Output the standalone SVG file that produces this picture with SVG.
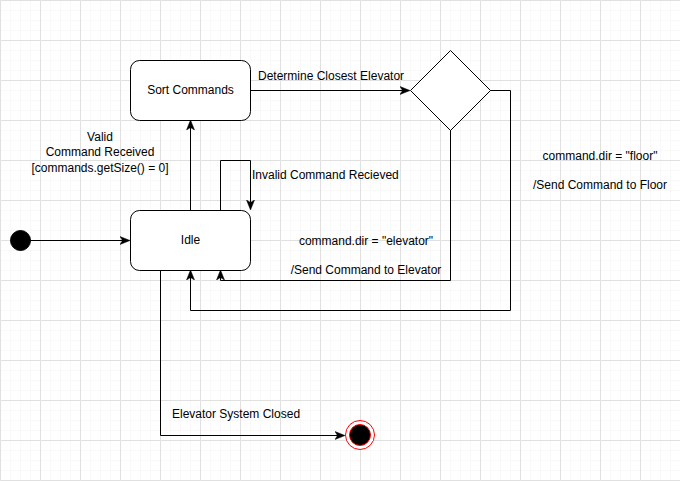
<svg xmlns="http://www.w3.org/2000/svg" width="680" height="481" viewBox="0 0 680 481">
<defs>
<pattern id="minor" width="10" height="10" patternUnits="userSpaceOnUse">
<path d="M10 0H0V10" fill="none" stroke="#f3f3f3" stroke-width="1"/>
</pattern>
<pattern id="major" width="40" height="40" patternUnits="userSpaceOnUse">
<rect width="40" height="40" fill="url(#minor)"/>
<path d="M40 0.5H0.5V40" fill="none" stroke="#e0e0e0" stroke-width="1"/>
</pattern>
<marker id="arr" viewBox="0 0 10 10" refX="9" refY="5" markerWidth="10" markerHeight="10" markerUnits="userSpaceOnUse" orient="auto">
<path d="M0 1L10 5L0 9L2.5 5Z" fill="#000" stroke="#000" stroke-width="0.5"/>
</marker>
</defs>
<style>
.st{fill:#fff;stroke:#000;stroke-width:1}
.e{fill:none;stroke:#000;stroke-width:1}
text{font-family:"Liberation Sans",Arial,sans-serif;font-size:12px;fill:#000}
.c{text-anchor:middle}
</style>
<rect width="680" height="481" fill="#fff"/>
<rect width="680" height="481" fill="url(#major)"/>
<g id="connectors">
<path class="e" d="M30.5 240.5H129" marker-end="url(#arr)"/>
<path class="e" d="M190.5 210V121" marker-end="url(#arr)"/>
<path class="e" d="M220.5 210V160.5H250.5V209" marker-end="url(#arr)"/>
<path class="e" d="M250 90.5H409" marker-end="url(#arr)"/>
<path class="e" d="M450.5 130V280.5H220.5V271" marker-end="url(#arr)"/>
<path class="e" d="M490 90.5H510.5V310.5H190.5V271" marker-end="url(#arr)"/>
<path class="e" d="M160.5 270V435.5H344" marker-end="url(#arr)"/>
</g>
<g id="labels">
<text class="c" x="100" y="141">Valid</text>
<text class="c" x="100" y="156">Command Received</text>
<text class="c" x="100" y="172">[commands.getSize() = 0]</text>
<text x="258" y="80">Determine Closest Elevator</text>
<text x="252" y="179">Invalid Command Recieved</text>
<text class="c" x="366" y="245">command.dir = "elevator"</text>
<text class="c" x="366" y="274">/Send Command to Elevator</text>
<text class="c" x="600" y="160">command.dir = "floor"</text>
<text class="c" x="600" y="189">/Send Command to Floor</text>
<text x="172" y="418">Elevator System Closed</text>
</g>
<g id="initial"><circle cx="20.5" cy="240.5" r="10" fill="#000" stroke="#000"/></g>
<g id="sort"><rect class="st" x="130.5" y="60.5" width="120" height="60" rx="9"/><text class="c" x="190.5" y="93.5">Sort Commands</text></g>
<g id="idle"><rect class="st" x="130.5" y="210.5" width="120" height="60" rx="9"/><text class="c" x="190.5" y="243.5">Idle</text></g>
<g id="decision"><path class="st" d="M450.5 50.5L490.5 90.5L450.5 130.5L410.5 90.5Z"/></g>
<g id="final"><circle cx="360" cy="435" r="14.5" fill="#fff" stroke="#ff0000"/><circle cx="360" cy="435" r="10.5" fill="#000" stroke="#ff0000"/></g>
</svg>
